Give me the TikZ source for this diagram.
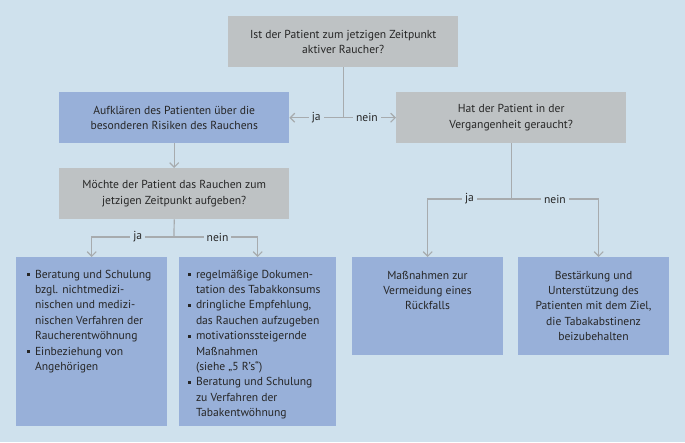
\documentclass[tikz,border=0pt]{standalone}
\usepackage{fontspec}
\setmainfont{PT Sans}
\usetikzlibrary{arrows.meta,calc}
\definecolor{bgc}{HTML}{CFE1ED}
\definecolor{grayc}{HTML}{BEC2C4}
\definecolor{bluec}{HTML}{98B0D9}
\definecolor{linec}{HTML}{A7ABAE}
\definecolor{textc}{HTML}{262626}
\newcommand{\sqb}{\raisebox{2pt}{\rule{2.8pt}{2.8pt}}}
\begin{document}
\begin{tikzpicture}[x=1pt,y=-1pt,
  every node/.style={text=textc,font=\fontsize{11.6}{15.4}\selectfont},
  box/.style={anchor=north west,inner sep=0pt,draw=none,align=center},
  graybox/.style={box,fill=grayc},
  bluebox/.style={box,fill=bluec},
  txt/.style={inner sep=0pt},
  conn/.style={draw=linec,line width=1.2pt},
  arr/.style={conn,-{Straight Barb[length=4.5pt,width=9pt]}},
  lbl/.style={fill=bgc,inner xsep=3pt,inner ysep=1pt,text=textc}]
\fill[bgc] (0,0) rectangle (685,442);
\useasboundingbox (0,0) rectangle (685,442);

\node[graybox,minimum width=230pt,minimum height=51pt] (q1) at (228,16)
  {Ist der Patient zum jetzigen Zeitpunkt\\aktiver Raucher?};
\node[bluebox,minimum width=230pt,minimum height=51pt] (a1) at (59,92)
  {Aufklären des Patienten über die\\besonderen Risiken des Rauchens};
\node[graybox,minimum width=230pt,minimum height=51pt] (h1) at (396,92)
  {Hat der Patient in der\\Vergangenheit geraucht?};
\node[graybox,minimum width=230pt,minimum height=51pt] (m1) at (59,168)
  {Möchte der Patient das Rauchen zum\\jetzigen Zeitpunkt aufgeben?};

\node[bluebox,minimum width=151pt,minimum height=169pt] (b1) at (16,257) {};
\node[bluebox,minimum width=157pt,minimum height=169pt] (b2) at (179,257) {};
\node[bluebox,minimum width=151pt,minimum height=98pt] (b3) at (352,257) {};
\node[bluebox,minimum width=151pt,minimum height=98pt] (b4) at (518,257) {};

\node[txt,anchor=base west] (b1t) at (27,278) {%
  \begin{tabular}[t]{@{}l@{\hspace{5pt}}l@{}}
  \sqb & Beratung und Schulung\\
       & bzgl. nichtmedizi-\\
       & nischen und medizi-\\
       & nischen Verfahren der\\
       & Raucherentwöhnung\\
  \sqb & Einbeziehung von\\
       & Angehörigen
  \end{tabular}};
\node[txt,anchor=base west] (b2t) at (188,278) {%
  \begin{tabular}[t]{@{}l@{\hspace{5pt}}l@{}}
  \sqb & regelmäßige Dokumen-\\
       & tation des Tabakkonsums\\
  \sqb & dringliche Empfehlung,\\
       & das Rauchen aufzugeben\\
  \sqb & motivationssteigernde\\
       & Maßnahmen\\
       & (siehe „5 R’s“)\\
  \sqb & Beratung und Schulung\\
       & zu Verfahren der\\
       & Tabakentwöhnung
  \end{tabular}};
\node[txt,anchor=base] (b3t) at (427.5,279) {%
  \begin{tabular}[t]{@{}c@{}}
  Maßnahmen zur\\Vermeidung eines\\Rückfalls
  \end{tabular}};
\node[txt,anchor=base] (b4t) at (593.5,279) {%
  \begin{tabular}[t]{@{}c@{}}
  Bestärkung und\\Unterstützung des\\Patienten mit dem Ziel,\\die Tabakabstinenz\\beizubehalten
  \end{tabular}};

% connectors
\coordinate (c1) at (q1.south |- a1.east);
\draw[conn] (q1.south) -- (c1);
\draw[arr] (c1) -- (a1.east) node[lbl,pos=0.5] (l1) {ja};
\draw[arr] (c1) -- (h1.west) node[lbl,pos=0.45] (l2) {nein};
\draw[arr] (a1.south) -- (m1.north);

\coordinate (c2) at (174,237);
\draw[conn] (m1.south) -- (c2);
\draw[arr] (c2) -| (b1.north) node[lbl,pos=0.22] (l3) {ja};
\draw[arr] (c2) -| (b2.north) node[lbl,pos=0.26] (l4) {nein};

\coordinate (c3) at (h1.south |- 0,199);
\coordinate (b4in) at ($(b4.north)+(5,0)$);
\draw[conn] (h1.south) -- (c3);
\draw[arr] (c3) -| (b3.north) node[lbl,pos=0.25] (l5) {ja};
\draw[arr] (c3) -| (b4in) node[lbl,pos=0.25] (l6) {nein};
\end{tikzpicture}
\end{document}
